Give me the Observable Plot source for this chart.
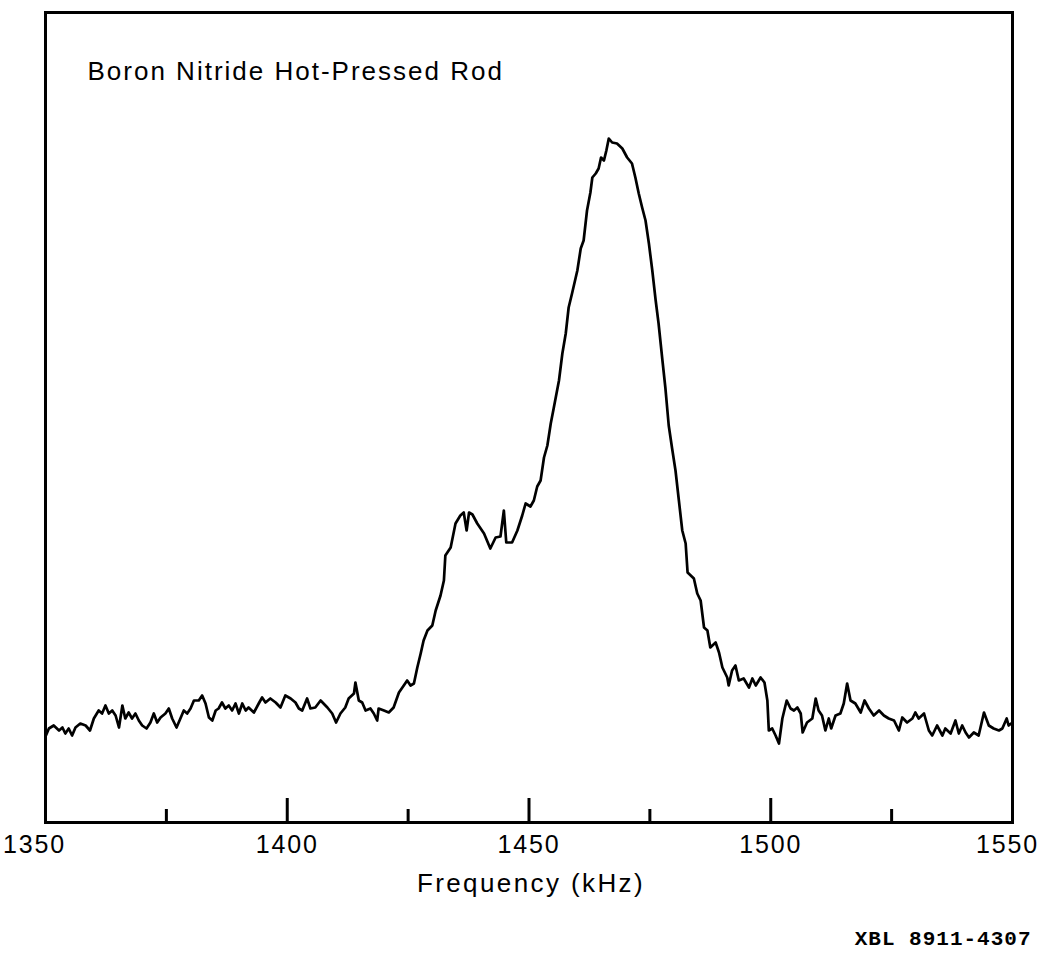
<!DOCTYPE html>
<html>
<head>
<meta charset="utf-8">
<script src="https://cdn.jsdelivr.net/npm/d3@7"></script>
<script src="https://cdn.jsdelivr.net/npm/@observablehq/plot@0.6"></script>
<style>
  html, body { margin: 0; padding: 0; background: #fff; }
  #chart svg { display: block; }
</style>
</head>
<body>
<div id="chart"></div>
<script>
// Frequency (kHz) of each sample of the traced spectrum
const frequency = [
  1350.0, 1350.7, 1351.7, 1352.8, 1353.5, 1354.1, 1354.8, 1355.5, 1356.2, 1357.2,
  1358.3, 1359.2, 1360.0, 1361.0, 1361.7, 1362.4, 1363.1, 1363.8, 1364.5, 1365.2,
  1365.9, 1366.5, 1367.2, 1367.9, 1368.6, 1369.3, 1370.0, 1370.9, 1371.7, 1372.4,
  1373.1, 1373.8, 1374.8, 1375.5, 1376.2, 1377.1, 1377.9, 1378.6, 1379.3, 1380.0,
  1380.7, 1381.7, 1382.4, 1383.1, 1383.8, 1384.5, 1385.2, 1385.8, 1386.5, 1387.2,
  1387.9, 1388.6, 1389.3, 1390.0, 1390.7, 1391.4, 1392.0, 1393.1, 1394.1, 1394.8,
  1395.5, 1396.5, 1397.6, 1398.6, 1399.6, 1400.7, 1401.7, 1402.4, 1403.1, 1404.1,
  1404.8, 1405.8, 1406.9, 1408.3, 1409.3, 1410.1, 1411.0, 1412.0, 1412.7, 1413.8,
  1414.1, 1414.8, 1415.5, 1416.2, 1417.2, 1417.9, 1418.6, 1418.9, 1420.0, 1421.0,
  1422.0, 1423.1, 1424.1, 1424.8, 1425.5, 1426.2, 1426.9, 1427.6, 1428.2, 1429.0,
  1430.0, 1430.7, 1431.7, 1432.4, 1432.7, 1433.8, 1434.8, 1435.8, 1436.5, 1437.1,
  1437.6, 1438.3, 1439.3, 1440.7, 1442.0, 1443.1, 1444.1, 1444.8, 1445.3, 1446.5,
  1447.6, 1448.6, 1449.3, 1450.3, 1451.0, 1451.7, 1452.4, 1453.1, 1453.8, 1454.5,
  1455.1, 1456.2, 1456.9, 1457.6, 1458.2, 1458.9, 1460.0, 1460.7, 1461.3, 1462.0,
  1462.7, 1463.1, 1463.8, 1464.4, 1464.9, 1465.5, 1466.0, 1466.5, 1467.2, 1468.2,
  1469.3, 1470.3, 1471.3, 1472.0, 1472.7, 1473.4, 1474.1, 1474.8, 1475.5, 1476.2,
  1476.8, 1477.6, 1478.2, 1478.9, 1479.6, 1480.3, 1481.0, 1481.7, 1482.4, 1482.8,
  1484.1, 1484.8, 1485.5, 1486.2, 1486.9, 1487.5, 1488.6, 1489.3, 1490.0, 1491.0,
  1491.3, 1492.0, 1492.7, 1493.4, 1494.4, 1495.5, 1496.2, 1496.9, 1497.9, 1498.7,
  1499.3, 1499.6, 1500.3, 1501.0, 1501.7, 1502.4, 1503.3, 1504.1, 1504.8, 1505.5,
  1506.2, 1506.6, 1507.5, 1508.6, 1509.3, 1509.9, 1510.6, 1511.3, 1512.0, 1512.5,
  1513.4, 1514.4, 1515.1, 1515.8, 1516.5, 1517.5, 1518.6, 1519.4, 1520.3, 1521.3,
  1522.4, 1523.4, 1524.4, 1525.5, 1526.5, 1527.2, 1528.2, 1529.3, 1529.9, 1530.6,
  1531.7, 1532.7, 1533.4, 1534.4, 1535.5, 1536.1, 1537.2, 1538.2, 1538.9, 1539.6,
  1540.3, 1541.0, 1542.0, 1543.0, 1544.1, 1545.1, 1546.1, 1547.2, 1547.9, 1548.8,
  1549.2, 1550.0
];

// Signal intensity (arbitrary units) at each frequency
const intensity = [
  86, 94, 97, 92, 95, 89, 94, 87, 95, 99,
  97, 92, 104, 112, 109, 117, 109, 112, 107, 95,
  117, 104, 110, 104, 109, 102, 97, 94, 100, 109,
  100, 105, 109, 114, 104, 95, 104, 112, 109, 114,
  122, 122, 127, 119, 105, 102, 112, 114, 120, 114,
  117, 112, 119, 109, 119, 112, 115, 110, 119, 125,
  120, 124, 120, 115, 127, 124, 120, 114, 112, 124,
  114, 115, 122, 115, 109, 100, 109, 115, 124, 129,
  140, 122, 120, 112, 114, 109, 102, 114, 112, 110,
  115, 130, 137, 142, 137, 139, 155, 169, 182, 192,
  197, 212, 227, 242, 267, 275, 299, 307, 310, 292,
  310, 308, 299, 289, 274, 285, 286, 312, 280, 280,
  292, 307, 319, 316, 322, 336, 342, 365, 377, 399,
  414, 442, 469, 489, 515, 529, 552, 574, 582, 612,
  630, 645, 649, 654, 665, 662, 672, 684, 680, 679,
  674, 665, 659, 645, 629, 615, 602, 579, 552, 522,
  499, 462, 435, 397, 374, 352, 322, 292, 279, 250,
  244, 229, 222, 195, 192, 175, 180, 170, 155, 145,
  137, 152, 157, 142, 144, 135, 144, 137, 145, 140,
  122, 92, 94, 87, 79, 104, 122, 114, 112, 115,
  109, 90, 100, 104, 124, 112, 107, 92, 104, 94,
  107, 109, 119, 139, 122, 119, 110, 122, 114, 107,
  112, 107, 104, 102, 92, 105, 100, 104, 110, 104,
  109, 92, 87, 97, 87, 94, 89, 102, 89, 97,
  90, 85, 90, 87, 110, 97, 94, 92, 94, 104,
  97, 100
];

const majorTicks = [1400, 1450, 1500];
const minorTicks = [1375, 1425, 1475, 1525];
const innerTickLabels = [1400, 1450, 1500];
const firstTickLabel = [1350];
const lastTickLabel = [1550];
const xDomain = [1350, 1550];
const yDomain = [0, 810];

const titleText = "Boron Nitride Hot-Pressed Rod";
const xLabelText = "Frequency (kHz)";
const captionText = "XBL 8911-4307";

const spectrum = frequency.map((f, i) => ({ f, v: intensity[i] }));

const labelStyle = {
  tickSize: 0, tickPadding: 13, fontSize: 25,
  tickFormat: d => String(d), label: null, fill: "#000"
};

const chart = Plot.plot({
  width: 1053,
  height: 958,
  marginTop: 12,
  marginRight: 41,
  marginBottom: 136,
  marginLeft: 45,
  style: {
    fontFamily: "'Liberation Sans', Arial, Helvetica, sans-serif",
    background: "#fff",
    color: "#000"
  },
  x: { domain: xDomain },
  y: { domain: yDomain, axis: null },
  marks: [
    Plot.line(spectrum, {
      x: "f", y: "v",
      stroke: "#000", strokeWidth: 2.7,
      strokeLinejoin: "round", strokeLinecap: "round"
    }),
    Plot.frame({ stroke: "#000", strokeWidth: 3 }),
    Plot.axisX(majorTicks, {
      tickSize: -24, strokeWidth: 3, tickFormat: () => "", label: null
    }),
    Plot.axisX(minorTicks, {
      tickSize: -13, strokeWidth: 3, tickFormat: () => "", label: null
    }),
    Plot.axisX(innerTickLabels, labelStyle),
    Plot.axisX(firstTickLabel, { ...labelStyle, dx: -11 }),
    Plot.axisX(lastTickLabel, { ...labelStyle, dx: -5 }),
    Plot.text([titleText], {
      text: d => d, frameAnchor: "top-left", textAnchor: "start",
      dx: 42, dy: 49, fontSize: 26, fill: "#000"
    }),
    Plot.text([xLabelText], {
      text: d => d, frameAnchor: "bottom", dy: 69, dx: 2, fontSize: 26, fill: "#000"
    }),
    Plot.text([captionText], {
      text: d => d, frameAnchor: "bottom-right", textAnchor: "end",
      dx: 19, dy: 122, fontSize: 21, fontWeight: "bold",
      fontFamily: "'Liberation Mono', 'Courier New', monospace", fill: "#000"
    })
  ]
});

document.getElementById("chart").appendChild(chart);
d3.select(chart).selectAll('g[aria-label="x-axis tick label"] text')
  .style("letter-spacing", "1.8px");
d3.select(chart).selectAll('g[aria-label="text"] text')
  .each(function () {
    if (this.textContent === captionText) this.style.letterSpacing = "1px";
    if (this.textContent === xLabelText) this.style.letterSpacing = "2.4px";
    if (this.textContent === titleText) this.style.letterSpacing = "2px";
  });
</script>
</body>
</html>
